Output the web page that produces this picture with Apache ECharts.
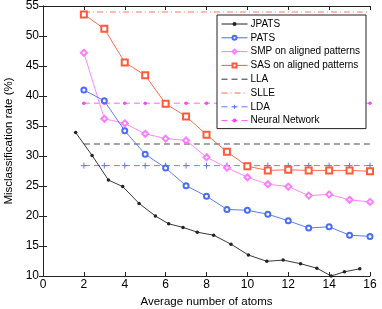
<!DOCTYPE html>
<html><head><meta charset="utf-8">
<script src="https://cdn.jsdelivr.net/npm/echarts@6/dist/echarts.min.js"></script>
<style>html,body{margin:0;padding:0;background:#fff}#c{width:382px;height:309px}</style>
</head><body><div id="c"></div>
<script>
// Data
const jpatsX = [1.6, 2.4, 3.2, 3.9, 4.7, 5.5, 6.15, 6.85, 7.55, 8.35, 9.2, 10.05, 10.95, 11.75, 12.6, 13.4, 14.1, 14.75, 15.5];
const jpatsY = [33.9, 30.1, 26.0, 24.9, 22.1, 20.0, 18.7, 18.1, 17.3, 16.8, 15.3, 13.5, 12.45, 12.65, 12.05, 11.3, 10.0, 10.7, 11.2];
const atoms = [2, 3, 4, 5, 6, 7, 8, 9, 10, 11, 12, 13, 14, 15, 16];
const patsY = [41.0, 39.2, 34.2, 30.3, 28.0, 25.05, 23.3, 21.1, 20.95, 20.3, 19.2, 18.0, 18.2, 16.8, 16.6];
const smpY  = [47.2, 36.2, 35.45, 33.7, 32.9, 32.6, 29.8, 28.05, 26.45, 25.3, 24.9, 23.4, 23.6, 22.7, 22.35];
const sasY  = [53.6, 51.2, 45.6, 43.45, 38.7, 36.6, 33.55, 30.7, 28.3, 27.6, 27.7, 27.6, 27.6, 27.6, 27.45];
const llaLevel = 32.0;
const slleLevel = 54.0;
const ldaLevel = 28.4;
const nnLevel = 38.8;
const seriesNames = ['JPATS', 'PATS', 'SMP on aligned patterns', 'SAS on aligned patterns', 'LLA', 'SLLE', 'LDA', 'Neural Network'];
const xTicks = [0, 2, 4, 6, 8, 10, 12, 14, 16];
const yTicks = [10, 15, 20, 25, 30, 35, 40, 45, 50, 55];

const pair = (xs, ys) => xs.map((x, i) => [x, ys[i]]);
const level = (v) => atoms.map(x => [x, v]);

const axisCol = '#222';
const font = 'Liberation Sans, Arial, Helvetica, sans-serif';
const plus = 'path://M0,5L10,5M5,0L5,10';

const legendData = seriesNames.map(n => {
  const o = {name: n};
  if (n === 'LLA' || n === 'SLLE') o.itemStyle = {opacity: 0};
  return o;
});

const chart = echarts.init(document.getElementById('c'), null, {renderer: 'canvas'});
chart.setOption({
  animation: false,
  backgroundColor: '#fff',
  textStyle: {fontFamily: font, color: '#000'},
  grid: {left: 43, right: 12, top: 6, bottom: 33, containLabel: false, outerBoundsMode: 'none'},
  legend: {
    data: legendData,
    orient: 'vertical',
    left: 217, top: 15,
    width: 147,
    itemWidth: 26, itemHeight: 5, itemGap: 3.8,
    padding: [4, 6, 3, 4],
    backgroundColor: '#fff',
    borderColor: '#222', borderWidth: 1,
    lineStyle: {width: 1},
    itemStyle: {borderWidth: 1},
    textStyle: {fontSize: 10, color: '#000', fontFamily: font, padding: [0, 0, 0, -2]}
  },
  xAxis: [{
    type: 'value', min: 0, max: 16, interval: 2,
    name: 'Average number of atoms', nameLocation: 'middle', nameGap: 16,
    nameTextStyle: {fontSize: 11.5, color: '#000', fontFamily: font},
    axisLine: {show: true, lineStyle: {color: axisCol, width: 1}},
    axisTick: {show: true, inside: true, length: 4, lineStyle: {color: axisCol}},
    axisLabel: {fontSize: 12, color: '#000', margin: 3, fontFamily: font,
      formatter: v => xTicks.includes(v) ? String(v) : ''},
    splitLine: {show: false}
  }, {
    type: 'value', min: 0, max: 16, interval: 2, position: 'top',
    axisLine: {show: true, lineStyle: {color: axisCol, width: 1}},
    axisTick: {show: true, inside: true, length: 4, lineStyle: {color: axisCol}},
    axisLabel: {show: false}, splitLine: {show: false}
  }],
  yAxis: [{
    type: 'value', min: 10, max: 55, interval: 5,
    name: 'Misclassification rate (%)', nameLocation: 'middle', nameGap: 28,
    nameTextStyle: {fontSize: 11.5, color: '#000', fontFamily: font},
    axisLine: {show: true, lineStyle: {color: axisCol, width: 1}},
    axisTick: {show: true, inside: true, length: 4, lineStyle: {color: axisCol}},
    axisLabel: {fontSize: 12, color: '#000', margin: 4, fontFamily: font,
      formatter: v => yTicks.includes(v) ? String(v) : ''},
    splitLine: {show: false}
  }, {
    type: 'value', min: 10, max: 55, interval: 5, position: 'right',
    axisLine: {show: true, lineStyle: {color: axisCol, width: 1}},
    axisTick: {show: true, inside: true, length: 4, lineStyle: {color: axisCol}},
    axisLabel: {show: false}, splitLine: {show: false}
  }],
  series: [
    {name: 'JPATS', type: 'line', data: pair(jpatsX, jpatsY), symbol: 'circle', symbolSize: 3.5,
      lineStyle: {color: '#222', width: 0.9}, itemStyle: {color: '#222'}, z: 8},
    {name: 'PATS', type: 'line', data: pair(atoms, patsY), symbol: 'emptyCircle', symbolSize: 5,
      lineStyle: {color: '#4a6cf7', width: 0.9}, itemStyle: {color: '#4a6cf7', borderWidth: 1}, z: 7},
    {name: 'SMP on aligned patterns', type: 'line', data: pair(atoms, smpY), symbol: 'emptyDiamond', symbolSize: 6,
      lineStyle: {color: '#ff7bff', width: 0.9}, itemStyle: {color: '#ff7bff', borderWidth: 1}, z: 6},
    {name: 'SAS on aligned patterns', type: 'line', data: pair(atoms, sasY), symbol: 'emptyRect', symbolSize: 6,
      lineStyle: {color: '#ff5a3c', width: 0.9}, itemStyle: {color: '#ff5a3c', borderWidth: 1}, z: 6},
    {name: 'LLA', type: 'line', data: level(llaLevel), symbol: 'none',
      lineStyle: {color: '#333', width: 0.9, type: [6, 4]}, itemStyle: {color: '#333'}, z: 3},
    {name: 'SLLE', type: 'line', data: level(slleLevel), symbol: 'none',
      lineStyle: {color: '#ff6a4d', width: 0.9, type: [6, 3, 1, 3]}, itemStyle: {color: '#ff6a4d'}, z: 3},
    {name: 'LDA', type: 'line', data: level(ldaLevel), symbol: plus, symbolSize: 6,
      lineStyle: {color: '#5a7cff', width: 0.9, type: [6, 4]},
      itemStyle: {color: 'rgba(0,0,0,0)', borderColor: '#5a7cff', borderWidth: 1}, z: 3},
    {name: 'Neural Network', type: 'line', data: level(nnLevel), symbol: 'circle', symbolSize: 3.5,
      lineStyle: {color: '#ff55ff', width: 0.9, type: [6, 4]}, itemStyle: {color: '#ff44ff'}, z: 3}
  ]
});
</script>
</body></html>
